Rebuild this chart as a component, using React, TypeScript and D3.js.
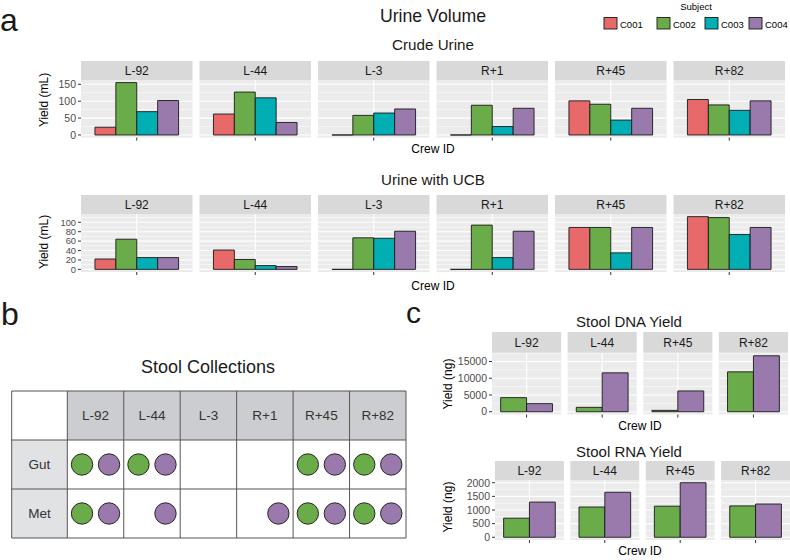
import React from 'react';
import * as d3 from 'd3';

// ---- data ----
const timepoints = ['L-92', 'L-44', 'L-3', 'R+1', 'R+45', 'R+82'];
const stoolTimepoints = ['L-92', 'L-44', 'R+45', 'R+82'];
const subjects = ['C001', 'C002', 'C003', 'C004'];
const stoolSubjects = ['C002', 'C004'];
const subjectColors = ['#E8696A', '#6AAB4A', '#00AEB4', '#9A79AC'];

// Crude urine volume (mL), one array per subject, ordered by timepoint
const crudeC001 = [23, 62, 0, 0, 101, 105];
const crudeC002 = [155, 127, 58, 88, 91, 89];
const crudeC003 = [69, 110, 65, 25, 44, 73];
const crudeC004 = [102, 37, 77, 79, 79, 101];

// Urine with UCB (mL)
const ucbC001 = [22, 41, 0, 0, 89, 112];
const ucbC002 = [64, 21, 67, 94, 89, 110];
const ucbC003 = [25, 8, 66, 25, 35, 74];
const ucbC004 = [25, 6, 81, 81, 89, 89];

// Stool yields (ng)
const dnaC002 = [4200, 1300, 400, 11900];
const dnaC004 = [2400, 11600, 6200, 16700];
const rnaC002 = [700, 1110, 1140, 1150];
const rnaC004 = [1290, 1650, 2000, 1220];

const crudeTicks = [0, 50, 100, 150];
const ucbTicks = [0, 20, 40, 60, 80, 100];
const dnaTicks = [0, 5000, 10000, 15000];
const rnaTicks = [0, 500, 1000, 1500, 2000];

// Stool collections (1 = collected)
const collectionRows = ['Gut', 'Met'];
const gutC002 = [1, 1, 0, 0, 1, 1];
const gutC004 = [1, 1, 0, 0, 1, 1];
const metC002 = [1, 0, 0, 0, 1, 1];
const metC004 = [1, 1, 0, 1, 1, 1];

const FONT = '"Liberation Sans", Arial, Helvetica, sans-serif';

function FacetBars({ facets, keys, series, colors, left, right, gap, stripTop, stripH, plotH, ticks, tickSize = 10.5, ylab, ylabX, ylabY, xlabY, xlabX }) {
    const n = facets.length;
    const panelW = (right - left - gap * (n - 1)) / n;
    const plotTop = stripTop + stripH;
    const plotBottom = plotTop + plotH;
    const maxV = d3.max(series.flat()) as number;
    const y = d3.scaleLinear().domain([-0.05 * maxV, 1.05 * maxV]).range([plotBottom, plotTop]);
    const step = ticks[1] - ticks[0];
    const minor = ticks.map(t => t + step / 2).filter(t => t <= y.domain()[1]);

    return (
        <g>
            {facets.map((f, i) => {
                const px = left + i * (panelW + gap);
                const xs = d3.scaleLinear().domain([0.4, 1.6]).range([px, px + panelW]);
                const band = d3.scaleBand().domain(keys).range([xs(0.55), xs(1.45)]);
                return (
                    <g key={f}>
                        <rect x={px} y={stripTop} width={panelW} height={stripH} fill="#D9D9D9" />
                        <text x={px + panelW / 2} y={stripTop + stripH / 2 + 4.3} textAnchor="middle" fontSize={12} fill="#1A1A1A">{f}</text>
                        <rect x={px} y={plotTop} width={panelW} height={plotH} fill="#EBEBEB" />
                        {minor.map(t => (
                            <line key={'m' + t} x1={px} x2={px + panelW} y1={y(t)} y2={y(t)} stroke="#fff" strokeWidth={0.55} />
                        ))}
                        {ticks.map(t => (
                            <line key={'t' + t} x1={px} x2={px + panelW} y1={y(t)} y2={y(t)} stroke="#fff" strokeWidth={1.1} />
                        ))}
                        <line x1={xs(1)} x2={xs(1)} y1={plotTop} y2={plotBottom} stroke="#fff" strokeWidth={1.1} />
                        {keys.map((k, j) => {
                            const x0 = band(k) as number;
                            const x1 = x0 + band.bandwidth();
                            const v = series[j][i];
                            return (
                                <path key={k}
                                    d={`M${x0},${y(0)}H${x1}V${y(v)}H${x0}Z`}
                                    fill={colors[j]} stroke="#1a1a1a" strokeWidth={0.9} />
                            );
                        })}
                        <line x1={xs(1)} x2={xs(1)} y1={plotBottom} y2={plotBottom + 3} stroke="#333" strokeWidth={1} />
                    </g>
                );
            })}
            {ticks.map(t => (
                <g key={t}>
                    <line x1={left - 3} x2={left} y1={y(t)} y2={y(t)} stroke="#333" strokeWidth={1} />
                    <text x={left - 5} y={y(t) + tickSize * 0.36} textAnchor="end" fontSize={tickSize} fill="#4D4D4D">{t}</text>
                </g>
            ))}
            <text transform={`translate(${ylabX},${ylabY}) rotate(-90)`} textAnchor="middle" fontSize={12} fill="#000">{ylab}</text>
            <text x={xlabX} y={xlabY} textAnchor="middle" fontSize={12} fill="#000">Crew ID</text>
        </g>
    );
}

function Legend() {
    const keyX = [604, 657, 705, 749];
    return (
        <g>
            <text x={696} y={9.5} textAnchor="middle" fontSize={9.5} fill="#000">Subject</text>
            {subjects.map((s, i) => (
                <g key={s}>
                    <rect x={keyX[i]} y={17.5} width={13} height={11.5} fill={subjectColors[i]} stroke="#1a1a1a" strokeWidth={0.9} />
                    <text x={keyX[i] + 16} y={27.5} fontSize={9.5} fill="#000">{s}</text>
                </g>
            ))}
        </g>
    );
}

function CollectionsTable() {
    const left = 11.7, firstW = 55.6, right = 406;
    const rowY = [391, 440, 489, 538];
    const col = d3.scaleBand().domain(timepoints).range([left + firstW, right]);
    const rows = [[gutC002, gutC004], [metC002, metC004]];
    const border = '#555';
    return (
        <g>
            <text x={208} y={373} textAnchor="middle" fontSize={18} fill="#1a1a1a">Stool Collections</text>
            <rect x={left} y={rowY[0]} width={firstW} height={rowY[1] - rowY[0]} fill="#fff" />
            {timepoints.map(t => (
                <g key={t}>
                    <rect x={col(t)} y={rowY[0]} width={col.bandwidth()} height={rowY[1] - rowY[0]} fill="#CBCDD0" />
                    <text x={(col(t) as number) + col.bandwidth() / 2} y={(rowY[0] + rowY[1]) / 2 + 4.8} textAnchor="middle" fontSize={13.5} fill="#333">{t}</text>
                </g>
            ))}
            {collectionRows.map((r, ri) => {
                const y0 = rowY[ri + 1], y1 = rowY[ri + 2];
                const cy = (y0 + y1) / 2;
                return (
                    <g key={r}>
                        <rect x={left} y={y0} width={firstW} height={y1 - y0} fill="#E1E2E4" />
                        <text x={left + firstW / 2} y={cy + 4.8} textAnchor="middle" fontSize={13.5} fill="#333">{r}</text>
                        {timepoints.map((t, ti) => {
                            const cx = (col(t) as number) + col.bandwidth() / 2;
                            return (
                                <g key={t}>
                                    {rows[ri].map((arr, si) => arr[ti] ? (
                                        <circle key={si} cx={cx + (si === 0 ? -13.5 : 13.5)} cy={cy} r={10.7}
                                            fill={subjectColors[subjects.indexOf(stoolSubjects[si])]} stroke="#1a1a1a" strokeWidth={0.9} />
                                    ) : null)}
                                </g>
                            );
                        })}
                    </g>
                );
            })}
            {/* cell borders */}
            {rowY.map(yy => (
                <line key={'h' + yy} x1={left} x2={right} y1={yy} y2={yy} stroke={border} strokeWidth={1} />
            ))}
            {[left, ...timepoints.map(t => col(t) as number), right].map(xx => (
                <line key={'v' + xx} x1={xx} x2={xx} y1={rowY[0]} y2={rowY[3]} stroke={border} strokeWidth={1} />
            ))}
        </g>
    );
}

export default function App() {
    const crude = [crudeC001, crudeC002, crudeC003, crudeC004];
    const ucb = [ucbC001, ucbC002, ucbC003, ucbC004];
    const stoolColors = stoolSubjects.map(s => subjectColors[subjects.indexOf(s)]);
    return (
        <svg width={790} height={560} style={{ position: 'absolute', left: 0, top: 0, background: '#fff' }} fontFamily={FONT}>
            <rect width={790} height={560} fill="#fff" />
            {/* panel labels */}
            <text x={0} y={30.5} fontSize={32} fill="#1a1a1a">a</text>
            <text x={1} y={325} fontSize={32} fill="#1a1a1a">b</text>
            <text x={406} y={323} fontSize={30} fill="#1a1a1a">c</text>

            {/* panel a */}
            <text x={433} y={22} textAnchor="middle" fontSize={17.7} fill="#1a1a1a">Urine Volume</text>
            <Legend />
            <text x={433} y={50} textAnchor="middle" fontSize={15.2} fill="#1a1a1a">Crude Urine</text>
            <FacetBars facets={timepoints} keys={subjects} series={crude} colors={subjectColors}
                left={81} right={785} gap={7} stripTop={61} stripH={19} plotH={57.6} ticks={crudeTicks}
                ylab="Yield (mL)" ylabX={47.5} ylabY={100} xlabX={433} xlabY={153} />
            <text x={433} y={185} textAnchor="middle" fontSize={15.2} fill="#1a1a1a">Urine with UCB</text>
            <FacetBars facets={timepoints} keys={subjects} series={ucb} colors={subjectColors}
                left={81} right={785} gap={7} stripTop={195} stripH={19} plotH={58} ticks={ucbTicks} tickSize={9.3}
                ylab="Yield (mL)" ylabX={47.5} ylabY={242} xlabX={433} xlabY={289.5} />

            {/* panel b */}
            <CollectionsTable />

            {/* panel c */}
            <text x={629} y={326.5} textAnchor="middle" fontSize={15} fill="#1a1a1a">Stool DNA Yield</text>
            <FacetBars facets={stoolTimepoints} keys={stoolSubjects} series={[dnaC002, dnaC004]} colors={stoolColors}
                left={492} right={788} gap={6.5} stripTop={332} stripH={21} plotH={61.5} ticks={dnaTicks}
                ylab="Yield (ng)" ylabX={451.5} ylabY={384} xlabX={640} xlabY={429.5} />
            <text x={629} y={457} textAnchor="middle" fontSize={15} fill="#1a1a1a">Stool RNA Yield</text>
            <FacetBars facets={stoolTimepoints} keys={stoolSubjects} series={[rnaC002, rnaC004]} colors={stoolColors}
                left={495} right={790} gap={6.5} stripTop={461} stripH={19} plotH={60} ticks={rnaTicks}
                ylab="Yield (ng)" ylabX={451.5} ylabY={507} xlabX={640} xlabY={555} />
        </svg>
    );
}
